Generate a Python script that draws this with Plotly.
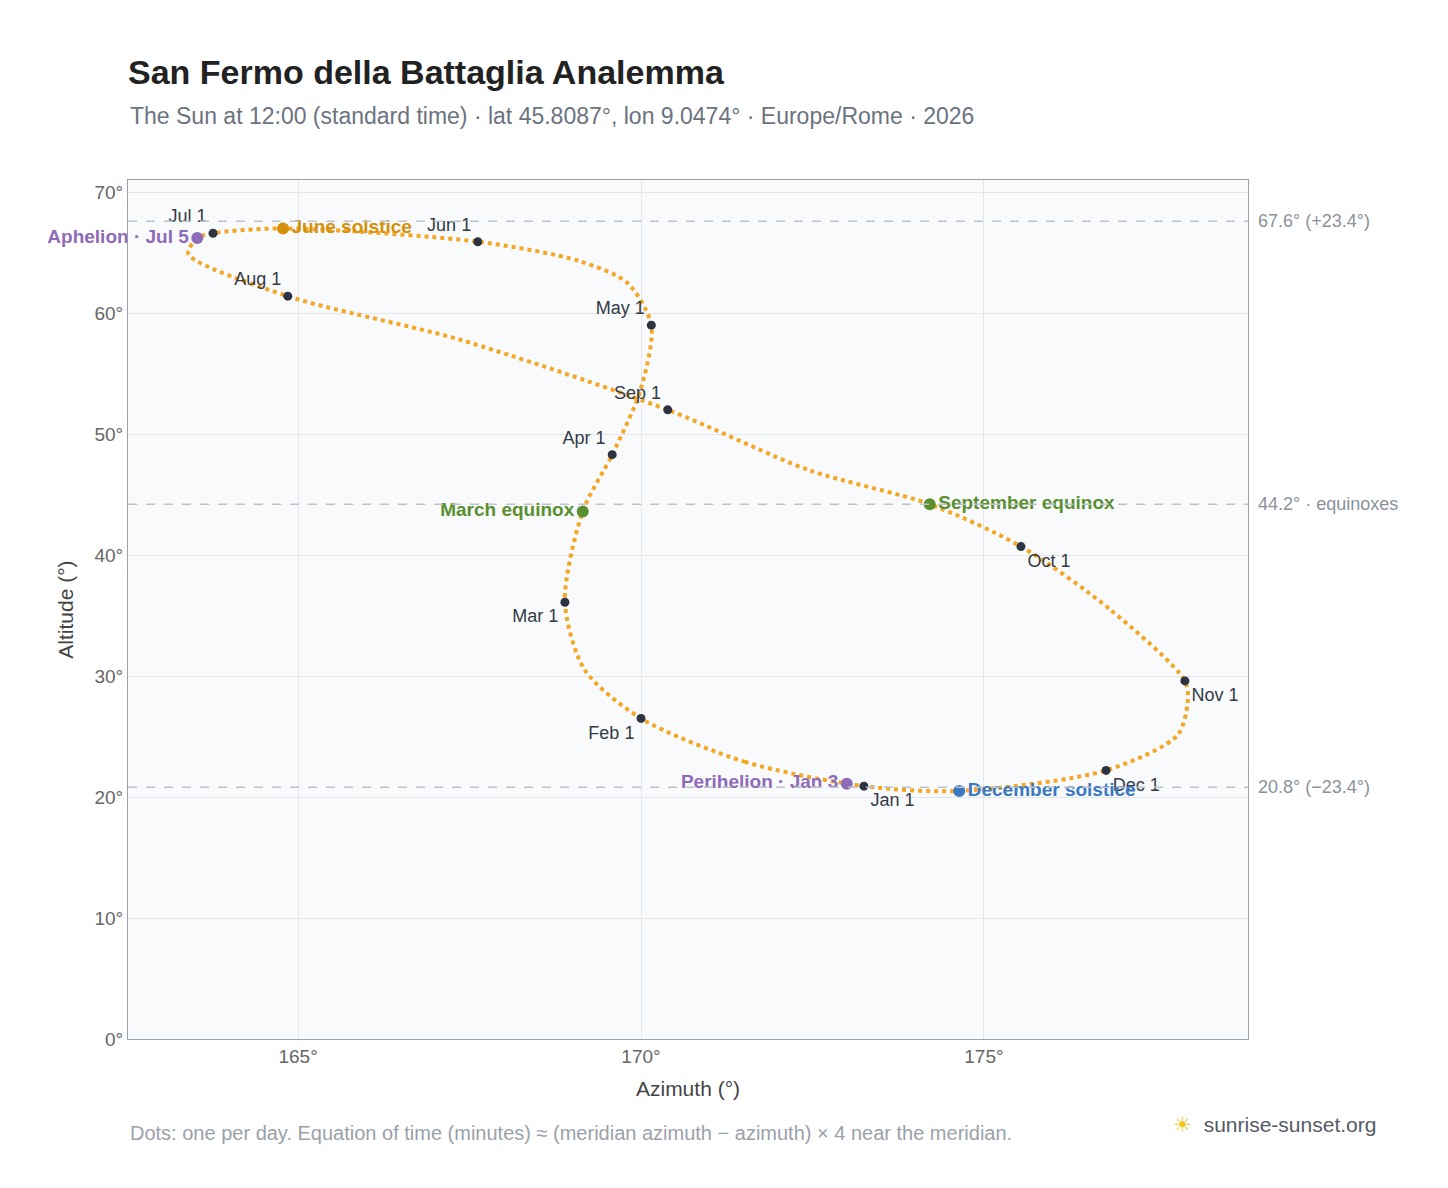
import plotly.graph_objects as go

# sun position at 12:00 (roughly twice a month)
path_az = [173.25, 171.52, 170.0, 169.18, 168.89, 169.15, 169.58, 169.99, 170.15, 169.8, 169.1,
           167.62, 164.78, 163.76, 163.53, 163.4, 164.85, 167.36, 170.39, 172.46, 174.21,
           175.54, 176.84, 177.93, 177.97, 177.82, 176.78, 174.64, 173.25]
path_alt = [20.9, 22.9, 26.5, 30.5, 36.1, 43.6, 48.3, 53.6, 59.0, 62.5, 64.3,
            65.9, 67.0, 66.6, 66.2, 64.9, 61.4, 57.8, 52.0, 47.0, 44.2,
            40.7, 35.5, 29.6, 27.8, 25.1, 22.2, 20.5, 20.9]

months = ["Jan 1", "Feb 1", "Mar 1", "Apr 1", "May 1", "Jun 1",
          "Jul 1", "Aug 1", "Sep 1", "Oct 1", "Nov 1", "Dec 1"]
month_az = [173.25, 170.0, 168.89, 169.58, 170.15, 167.62, 163.76, 164.85, 170.39, 175.54, 177.93, 176.78]
month_alt = [20.9, 26.5, 36.1, 48.3, 59.0, 65.9, 66.6, 61.4, 52.0, 40.7, 29.6, 22.2]
month_pos = ["bottom right", "bottom left", "bottom left", "top left", "top left", "top left",
             "top left", "top left", "top left", "bottom right", "bottom right", "bottom right"]

events = ["June solstice", "March equinox", "September equinox", "December solstice",
          "Perihelion · Jan 3", "Aphelion · Jul 5"]
event_az = [164.78, 169.15, 174.21, 174.64, 173.0, 163.53]
event_alt = [67.0, 43.6, 44.2, 20.5, 21.1, 66.2]
event_col = ["#d4900a", "#5a8f2e", "#5a8f2e", "#3a78c2", "#8e6bb8", "#8e6bb8"]
event_pos = ["middle right", "middle left", "middle right", "middle right", "middle left", "middle left"]

ref_alt = [67.6, 44.2, 20.8]
ref_lbl = ["67.6° (+23.4°)", "44.2° · equinoxes", "20.8° (−23.4°)"]

x_ticks = [165, 170, 175]
x_ticktext = ["165°", "170°", "175°"]

fig = go.Figure()
fig.add_trace(go.Scatter(x=path_az, y=path_alt, mode="lines",
                         line=dict(color="#f5a623", width=4, dash="dot", shape="spline", smoothing=0.8),
                         hoverinfo="skip"))
fig.add_trace(go.Scatter(x=month_az, y=month_alt, mode="markers+text", text=months,
                         textposition=month_pos, textfont=dict(size=18, color="#333a45"),
                         marker=dict(size=9, color="#2d3340"), cliponaxis=False))
for a, b, n, c, p in zip(event_az, event_alt, events, event_col, event_pos):
    fig.add_trace(go.Scatter(x=[a], y=[b], mode="markers+text", text=["<b>" + n + "</b>"],
                             textposition=p, textfont=dict(size=19, color=c),
                             marker=dict(size=12, color=c), cliponaxis=False))
for v, t in zip(ref_alt, ref_lbl):
    fig.add_hline(y=v, line=dict(color="#bcc3cb", width=1.5, dash="dash"))
    fig.add_annotation(x=1, xref="paper", y=v, text=t, showarrow=False, xanchor="left",
                       xshift=8, font=dict(size=18, color="#8a929c"))

fig.add_annotation(x=0, xref="paper", y=1.074, yref="paper", xanchor="left", yanchor="middle",
                   text="The Sun at 12:00 (standard time) · lat 45.8087°, lon 9.0474° · Europe/Rome · 2026",
                   showarrow=False, font=dict(size=23, color="#6b7280"))
fig.add_annotation(x=0, xref="paper", y=-0.109, yref="paper", xanchor="left", yanchor="middle",
                   text="Dots: one per day. Equation of time (minutes) ≈ (meridian azimuth − azimuth) × 4 near the meridian.",
                   showarrow=False, font=dict(size=20, color="#9aa1aa"))
fig.add_annotation(x=1.116, xref="paper", y=-0.099, yref="paper", xanchor="right", yanchor="middle",
                   text="<span style='color:#f5c518'>☀</span>  sunrise-sunset.org",
                   showarrow=False, font=dict(size=21, color="#555b66"))

fig.update_layout(
    width=1448, height=1188, showlegend=False,
    font=dict(family="Liberation Sans, Arial", color="#444"),
    title=dict(text="<b>San Fermo della Battaglia Analemma</b>", x=120 / 1448, xanchor="left",
               y=1 - 64 / 1188, yanchor="middle", font=dict(size=34, color="#222")),
    paper_bgcolor="white", plot_bgcolor="#f8fafc",
    margin=dict(l=120, r=208, t=172, b=157),
    xaxis=dict(range=[162.52, 178.85], tickvals=x_ticks, ticktext=x_ticktext, automargin=False,
               title=dict(text="Azimuth (°)", font=dict(size=21)), gridcolor="#e3e7ec",
               showline=True, linecolor="#9aa3ad", mirror=True, zeroline=False,
               tickfont=dict(size=19, color="#666")),
    yaxis=dict(range=[0, 71], dtick=10, ticksuffix="°", automargin=False,
               title=dict(text="Altitude (°)", font=dict(size=21)), gridcolor="#e3e7ec",
               showline=True, linecolor="#9aa3ad", mirror=True, zeroline=False,
               tickfont=dict(size=19, color="#666")),
)
fig.write_html("out.html")
